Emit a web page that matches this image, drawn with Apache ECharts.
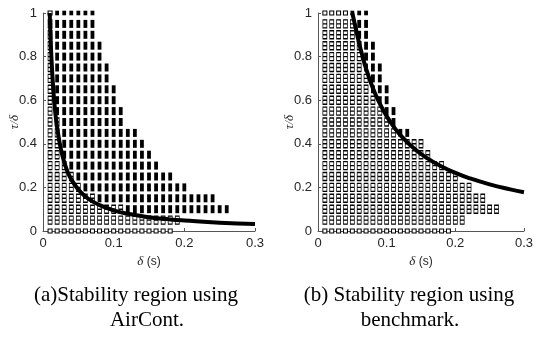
<!DOCTYPE html>
<html>
<head>
<meta charset="utf-8">
<script src="https://cdn.jsdelivr.net/npm/echarts@6/dist/echarts.min.js"></script>
<style>
  html, body { margin: 0; padding: 0; background: #fff; }
  #chart { width: 536px; height: 340px; }
</style>
</head>
<body>
<div id="chart"></div>
<script>
// tested grid: delay delta (s) per column, tau/delta per row
const deltas = [0.01, 0.02, 0.03, 0.04, 0.05, 0.06, 0.07, 0.08, 0.09, 0.10, 0.11, 0.12, 0.13,
                0.14, 0.15, 0.16, 0.17, 0.18, 0.19, 0.20, 0.21, 0.22, 0.23, 0.24, 0.25, 0.26];
const ratios = [0, 0.05, 0.1, 0.15, 0.2, 0.25, 0.3, 0.35, 0.4, 0.45, 0.5,
                0.55, 0.6, 0.65, 0.7, 0.75, 0.8, 0.85, 0.9, 0.95, 1];

// (a) AirCont: per column lowest row, highest hollow row, highest row
const aircontBottom = [0, 0, 0, 0, 0, 0, 0, 0, 0, 0, 0, 0, 0,
                       0, 0, 0, 0, 0, 0.05, 0.1, 0.1, 0.1, 0.1, 0.1, 0.1, 0.1];
const aircontHollow = [1, 0.5, 0.3, 0.25, 0.2, 0.15, 0.15, 0.1, 0.1, 0.1, 0.1, 0.05, 0.05,
                       0.05, 0.05, 0.05, 0.05, 0.05, 0.05, 0.05, 0.05, 0.05, 0.05, 0.05, 0.05, 0.05];
const aircontTop = [1, 1, 1, 1, 1, 1, 1, 0.85, 0.75, 0.65, 0.55, 0.45, 0.45,
                    0.4, 0.35, 0.3, 0.25, 0.25, 0.2, 0.2, 0.15, 0.15, 0.15, 0.15, 0.1, 0.1];
const aircontCurveX = [0.0095, 0.011, 0.013, 0.015, 0.0175, 0.02, 0.025, 0.03, 0.035, 0.04, 0.05,
                       0.06, 0.07, 0.08, 0.1, 0.12, 0.15, 0.18, 0.2, 0.25, 0.3];
const aircontCurveY = [1, 0.86, 0.73, 0.63, 0.54, 0.475, 0.38, 0.317, 0.27, 0.237, 0.19,
                       0.158, 0.136, 0.119, 0.095, 0.079, 0.063, 0.053, 0.048, 0.038, 0.032];

// (b) benchmark
const benchBottom = [0, 0, 0, 0, 0, 0, 0, 0, 0, 0, 0, 0, 0,
                     0, 0, 0, 0, 0, 0, 0.05, 0.05, 0.1, 0.1, 0.1, 0.1, 0.1];
const benchHollow = [1, 1, 1, 1, 0.95, 0.85, 0.7, 0.6, 0.55, 0.5, 0.45, 0.4, 0.4,
                     1, 1, 1, 1, 1, 1, 1, 1, 1, 1, 1, 1, 1];
const benchTop = [1, 1, 1, 1, 1, 1, 1, 0.85, 0.75, 0.65, 0.55, 0.45, 0.45,
                  0.4, 0.4, 0.35, 0.3, 0.3, 0.25, 0.25, 0.2, 0.2, 0.15, 0.15, 0.1, 0.1];
const benchCurveX = [0.05, 0.055, 0.06, 0.065, 0.07, 0.08, 0.09, 0.1, 0.11, 0.12, 0.14,
                     0.16, 0.18, 0.2, 0.22, 0.25, 0.28, 0.3];
const benchCurveY = [1, 0.93, 0.86, 0.8, 0.745, 0.655, 0.585, 0.527, 0.48, 0.44, 0.378,
                     0.332, 0.296, 0.267, 0.243, 0.214, 0.191, 0.178];

function splitGrid(bottom, hollowTop, top) {
  const hollow = [], filled = [];
  deltas.forEach((d, i) => {
    ratios.forEach(r => {
      if (r < bottom[i] || r > top[i]) return;
      (r <= hollowTop[i] ? hollow : filled).push([d, r]);
    });
  });
  return { hollow, filled };
}

const a = splitGrid(aircontBottom, aircontHollow, aircontTop);
const b = splitGrid(benchBottom, benchHollow, benchTop);

const EIGHT = 'path://M0,0H10V20H0Z M0,10H10';
const isEdge = v => v[1] === 0 || v[1] === 1;
const symbolFn = v => (isEdge(v) ? 'rect' : EIGHT);
const hollowSize = v => (isEdge(v) ? [4, 3.8] : [4, 8]);
const filledSize = v => (isEdge(v) ? [3.8, 4.6] : [3.8, 8]);

const axisColor = '#555';
const labelColor = '#262626';

function xAxis(idx) {
  return {
    gridIndex: idx, type: 'value', min: 0, max: 0.3, interval: 0.1,
    name: '{i|δ} (s)', nameLocation: 'middle', nameGap: 22,
    nameTextStyle: {
      color: labelColor, fontSize: 12, fontFamily: 'Liberation Sans',
      rich: { i: { fontStyle: 'italic', fontFamily: 'Liberation Serif', fontSize: 13, color: labelColor } }
    },
    axisLine: { show: true, lineStyle: { color: axisColor, width: 1 } },
    axisTick: { show: true, inside: true, length: 3, lineStyle: { color: axisColor } },
    axisLabel: { color: labelColor, fontSize: 13, fontFamily: 'Liberation Sans', margin: 6 },
    splitLine: { show: false }
  };
}

function yAxis(idx) {
  return {
    gridIndex: idx, type: 'value', min: 0, max: 1, interval: 0.2,
    axisLine: { show: true, lineStyle: { color: axisColor, width: 1 } },
    axisTick: { show: true, inside: true, length: 3, lineStyle: { color: axisColor } },
    axisLabel: { color: labelColor, fontSize: 13, fontFamily: 'Liberation Sans', margin: 6 },
    splitLine: { show: false }
  };
}

function gridSeries(idx, pts, curveX, curveY) {
  return [
    {
      type: 'scatter', xAxisIndex: idx, yAxisIndex: idx, clip: false, silent: true,
      data: pts.hollow, symbol: symbolFn, symbolSize: hollowSize,
      itemStyle: { color: '#fff', borderColor: '#000', borderWidth: 1, opacity: 1 }
    },
    {
      type: 'scatter', xAxisIndex: idx, yAxisIndex: idx, clip: false, silent: true,
      data: pts.filled, symbol: 'rect', symbolSize: filledSize,
      itemStyle: { color: '#000', opacity: 1 }
    },
    {
      type: 'line', xAxisIndex: idx, yAxisIndex: idx, smooth: true, showSymbol: false, silent: true,
      data: curveX.map((x, i) => [x, curveY[i]]),
      lineStyle: { color: '#000', width: 4 }, z: 5
    }
  ];
}

const chart = echarts.init(document.getElementById('chart'), null, { renderer: 'canvas' });

const capStyle = { fill: '#000', fontSize: 21, fontFamily: 'Liberation Serif', textAlign: 'center', textVerticalAlign: 'middle' };
const yNameStyle = { text: 'τ/δ', fill: labelColor, fontSize: 13, fontStyle: 'italic', fontFamily: 'Liberation Serif', textAlign: 'center', textVerticalAlign: 'middle' };

chart.setOption({
  animation: false,
  backgroundColor: '#fff',
  grid: [
    { left: 43, top: 13, width: 212, height: 218 },
    { left: 318, top: 13, width: 212, height: 218 }
  ],
  xAxis: [xAxis(0), xAxis(1)],
  yAxis: [yAxis(0), yAxis(1)],
  series: [
    ...gridSeries(0, a, aircontCurveX, aircontCurveY),
    ...gridSeries(1, b, benchCurveX, benchCurveY)
  ],
  graphic: [
    { type: 'text', x: 15, y: 122, rotation: Math.PI / 2, style: Object.assign({}, yNameStyle) },
    { type: 'text', x: 290, y: 122, rotation: Math.PI / 2, style: Object.assign({}, yNameStyle) },
    { type: 'text', x: 136, y: 295, style: Object.assign({ text: '(a)Stability region using' }, capStyle) },
    { type: 'text', x: 147, y: 320, style: Object.assign({ text: 'AirCont.' }, capStyle) },
    { type: 'text', x: 409, y: 295, style: Object.assign({ text: '(b) Stability region using' }, capStyle) },
    { type: 'text', x: 410, y: 320, style: Object.assign({ text: 'benchmark.' }, capStyle) }
  ]
});
</script>
</body>
</html>
